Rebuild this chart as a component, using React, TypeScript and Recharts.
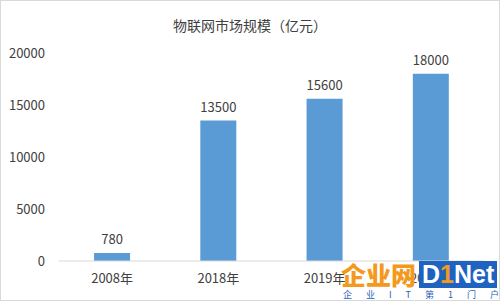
import React from "react";
import { BarChart, Bar, XAxis, YAxis, LabelList } from "recharts";

const years = ["2008年", "2018年", "2019年", "2020年"];
const marketSize = [780, 13500, 15600, 18000];
const yTicks = [0, 5000, 10000, 15000, 20000];

const data = years.map((year, i) => ({ year, value: marketSize[i] }));

const font = '"Noto Sans CJK SC", "Noto Sans", sans-serif';
const tickStyle = { fontSize: 13, fill: "#404040", fontFamily: font };

export default function App() {
  return (
    <div
      style={{
        position: "absolute",
        left: 0,
        top: 0,
        width: 500,
        height: 301,
        boxSizing: "border-box",
        border: "1px solid #d9d9d9",
        background: "#fff",
        fontFamily: font,
      }}
    >
      <div
        style={{
          position: "absolute",
          left: 0,
          top: 14,
          width: 498,
          textAlign: "center",
          fontSize: 14,
          color: "#404040",
        }}
      >
        物联网市场规模（亿元）
      </div>
      <div style={{ position: "absolute", left: -1, top: -1 }}>
        <BarChart
          width={500}
          height={301}
          data={data}
          margin={{ top: 53, right: 16, left: 0, bottom: 0 }}
          barCategoryGap="33%"
        >
          <XAxis
            dataKey="year"
            tickLine={false}
            axisLine={{ stroke: "#d9d9d9" }}
            tick={tickStyle}
            tickMargin={7}
            height={40}
          />
          <YAxis
            domain={[0, 20000]}
            ticks={yTicks}
            tickLine={false}
            axisLine={false}
            tick={tickStyle}
            tickMargin={8}
            width={59}
          />
          <Bar dataKey="value" fill="#5b9bd5" isAnimationActive={false}>
            <LabelList
              dataKey="value"
              position="top"
              offset={9}
              style={{ fontSize: 13, fill: "#404040", fontFamily: font }}
            />
          </Bar>
        </BarChart>
      </div>
      {/* site watermark, bottom right */}
      <div
        style={{
          position: "absolute",
          left: 340,
          top: 260,
          display: "flex",
          alignItems: "center",
          fontWeight: 900,
          fontSize: 25,
          lineHeight: "27px",
        }}
      >
        <span style={{ color: "#f39a1e" }}>企业网</span>
        <span
          style={{
            marginLeft: 3,
            background: "#1f63c0",
            color: "#fff",
            fontFamily: "Arial, Liberation Sans, sans-serif",
            padding: "0 3px",
          }}
        >
          D<span style={{ color: "#f39a1e" }}>1</span>Net
        </span>
      </div>
      <div
        style={{
          position: "absolute",
          left: 342,
          top: 289,
          width: 156,
          display: "flex",
          justifyContent: "space-between",
          fontSize: 9,
          lineHeight: "10px",
          color: "#1f63c0",
          whiteSpace: "nowrap",
        }}
      >
        {["企", "业", "I", "T", "第", "1", "门", "户"].map((c, i) => (
          <span key={i}>{c}</span>
        ))}
      </div>
    </div>
  );
}
